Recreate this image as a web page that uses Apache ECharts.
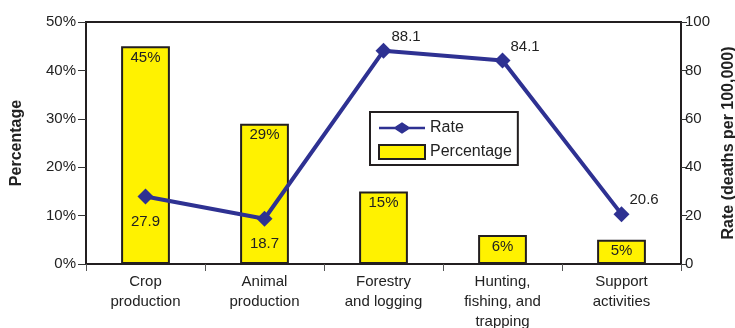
<!DOCTYPE html>
<html>
<head>
<meta charset="utf-8">
<script src="https://cdn.jsdelivr.net/npm/echarts@6/dist/echarts.min.js"></script>
<style>
  html, body { margin: 0; padding: 0; background: #fff; }
  #chart { width: 735px; height: 328px; }
</style>
</head>
<body>
<div id="chart"></div>
<script>
var categories = ['Crop\nproduction', 'Animal\nproduction', 'Forestry\nand logging', 'Hunting,\nfishing, and\ntrapping', 'Support\nactivities']
var percentage = [45, 29, 15, 6, 5]
var rate = [27.9, 18.7, 88.1, 84.1, 20.6]
var rateLabelPos = ['bottom', 'bottom', 'insideBottomLeft', 'insideBottomLeft', 'insideBottomLeft']

var myChart = echarts.init(document.getElementById('chart'))
var font = 'Liberation Sans, Arial, sans-serif'
var dark = '#231f20'

var option = {
  animation: false,
  textStyle: { fontFamily: font },
  grid: {
    left: 86, right: 54, top: 22, bottom: 64,
    outerBoundsMode: 'none',
    show: true, borderColor: dark, borderWidth: 2
  },
  legend: {
    left: 370, top: 112, width: 150,
    orient: 'vertical',
    padding: [8, 6, 5, 8],
    itemGap: 8,
    borderColor: dark, borderWidth: 2,
    textStyle: { fontSize: 16, color: '#222', fontFamily: font },
    data: [
      { name: 'Rate', icon: 'path://M0,4 L14,4 L20,0 L26,4 L40,4 L40,6 L26,6 L20,10 L14,6 L0,6 Z', itemStyle: { color: '#2e3192' } },
      { name: 'Percentage', icon: 'rect' }
    ],
    itemWidth: 46, itemHeight: 14
  },
  xAxis: {
    type: 'category',
    data: categories,
    axisLine: { lineStyle: { color: dark, width: 2 } },
    axisTick: { show: true, length: 7, lineStyle: { color: '#555' } },
    axisLabel: { fontSize: 15, color: '#222', lineHeight: 20, margin: 8 }
  },
  yAxis: [
    {
      type: 'value', min: 0, max: 50, interval: 10,
      name: 'Percentage', nameLocation: 'middle', nameGap: 61, nameRotate: 90,
      nameTextStyle: { fontSize: 16, fontWeight: 'bold', color: '#222' },
      axisLine: { show: true, lineStyle: { color: dark, width: 2 } },
      axisTick: { show: true, length: 8, lineStyle: { color: '#333' } },
      axisLabel: { fontSize: 15, color: '#222', formatter: '{value}%', margin: 10 },
      splitLine: { show: false }
    },
    {
      type: 'value', min: 0, max: 100, interval: 20,
      name: 'Rate (deaths per 100,000)', nameLocation: 'middle', nameGap: 40, nameRotate: 90,
      nameTextStyle: { fontSize: 16, fontWeight: 'bold', color: '#222' },
      axisLine: { show: true, lineStyle: { color: dark, width: 2 } },
      axisTick: { show: true, length: 6, lineStyle: { color: '#333' } },
      axisLabel: { fontSize: 15, color: '#222', margin: 4 },
      splitLine: { show: false }
    }
  ],
  series: [
    {
      name: 'Percentage',
      type: 'bar',
      data: percentage,
      barWidth: '41%',
      itemStyle: { color: '#fff200', borderColor: dark, borderWidth: 2 },
      label: { show: true, position: 'insideTop', formatter: '{c}%', fontSize: 15, color: '#222', distance: 4 }
    },
    {
      name: 'Rate',
      type: 'line',
      yAxisIndex: 1,
      data: rate.map(function (v, i) {
        var pos = rateLabelPos[i]
        var lbl = pos === 'bottom'
          ? { position: 'bottom', distance: 10 }
          : { position: 'right', offset: [-4, -14], distance: 4 }
        return { value: v, label: lbl }
      }),
      symbol: 'diamond',
      symbolSize: 16,
      lineStyle: { color: '#2e3192', width: 4 },
      itemStyle: { color: '#2e3192' },
      label: { show: true, fontSize: 15, color: '#222' },
      z: 5
    }
  ]
}
myChart.setOption(option)
</script>
</body>
</html>
